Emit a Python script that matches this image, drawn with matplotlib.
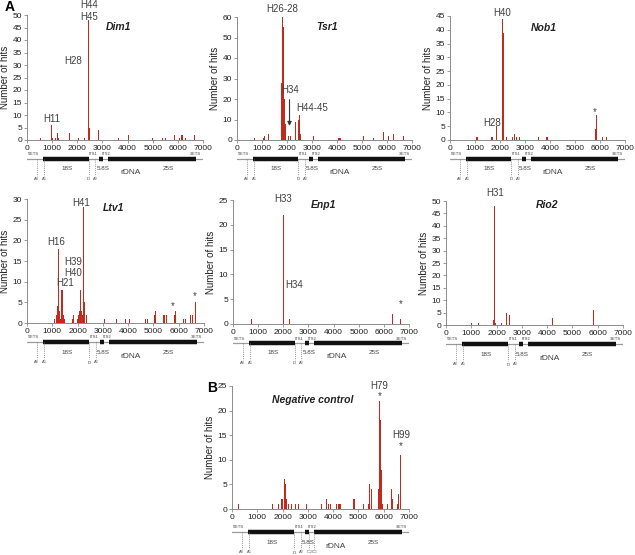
import numpy as np
import matplotlib
matplotlib.use("Agg")
import matplotlib.pyplot as plt

plt.rcParams['font.family'] = ['Liberation Sans', 'DejaVu Sans']

# hits per rDNA position
dim1_pos = [520, 990, 1020, 1120, 1230, 1270, 1680, 1830, 1870, 2050, 2300, 2440, 2470, 2500,
            2850, 3650, 4020, 5000, 5050, 5380, 5500, 5850, 6050, 6150, 6200, 6300, 6650]
dim1_hits = [1, 6, 1, 1, 3, 1, 3, 29, 1, 1, 1, 48, 5, 4,
             4, 1, 2, 1, 1, 1, 1, 2, 1, 2, 2, 1, 2]

tsr1_pos = [700, 1050, 1100, 1200, 1270, 1790, 1820, 1850, 1870, 1900, 1930, 1960, 2000, 2050,
            2150, 2200, 2350, 2400, 2450, 2490, 2530, 3000, 3050, 4000, 4050, 4100, 4150,
            5050, 5120, 5450, 5800, 5870, 5920, 6050, 6270, 6650]
tsr1_hits = [1, 1, 2, 1, 3, 28, 60, 55, 40, 20, 8, 3, 2, 2,
             2, 5, 9, 5, 10, 12, 3, 1, 2, 1, 1, 1, 1,
             2, 3, 1, 2, 4, 3, 2, 3, 2]

nob1_pos = [1050, 1100, 1650, 1700, 1850, 2000, 2100, 2130, 2200, 2250, 2500, 2580, 2650, 2780,
            3080, 3550, 3870, 3900, 5820, 5850, 5880, 6100, 6200, 6250, 6520]
nob1_hits = [1, 1, 1, 1, 5, 1, 44, 39, 2, 1, 1, 2, 1, 1,
             1, 1, 1, 1, 4, 9, 7, 1, 1, 1, 1]

ltv1_pos = [1100, 1150, 1200, 1230, 1260, 1280, 1300, 1330, 1370, 1400, 1420, 1450, 1480,
            1800, 1850, 2000, 2050, 2080, 2100, 2130, 2160, 2200, 2230, 2250, 2280, 2350,
            3050, 3550, 3900, 4050, 4700, 4750, 5050, 5070, 5100, 5400, 5450, 5500,
            5850, 5880, 6200, 6280, 6450, 6550, 6650, 6680]
ltv1_hits = [1, 2, 4, 18, 10, 3, 2, 1, 8, 8, 5, 2, 1,
             1, 2, 1, 2, 3, 4, 8, 3, 2, 28, 26, 5, 2,
             1, 1, 1, 1, 1, 1, 2, 3, 1, 2, 2, 2,
             2, 3, 1, 1, 2, 2, 3, 5]

enp1_pos = [730, 1990, 2010, 2030, 2150, 2250, 5050, 6350, 6650, 6680]
enp1_hits = [1, 24, 22, 12, 6, 1, 1, 2, 1, 3]

rio2_pos = [1000, 1300, 1880, 1930, 1960, 2200, 2380, 2500, 4200, 5850]
rio2_hits = [1, 1, 2, 48, 1, 1, 5, 4, 3, 6]

neg_pos = [250, 1600, 1850, 1950, 2000, 2080, 2110, 2150, 2250, 2350, 2500, 2620, 2950,
           3550, 3600, 3680, 3720, 3800, 3900, 4150, 4200, 4250, 4300, 4800, 4850,
           5100, 5200, 5400, 5450, 5500, 5800, 5850, 5870, 5900, 5950,
           6150, 6250, 6300, 6330, 6550, 6600, 6650, 6680]
neg_hits = [1, 1, 1, 2, 2, 6, 5, 2, 1, 1, 1, 1, 1,
            1, 2, 3, 2, 1, 1, 1, 1, 1, 1, 2, 2,
            2, 1, 1, 5, 4, 4, 22, 18, 8, 1,
            1, 5, 4, 2, 1, 3, 11, 10]

W, H = 635, 555
fig = plt.figure(figsize=(6.35, 5.55), dpi=100)

BAR = '#c22a1c'
GREY = '#8c8c8c'
TXT = '#404040'


def px_axes(x0, x1, ytop, ybot):
    return fig.add_axes([x0 / W, 1 - ybot / H, (x1 - x0) / W, (ybot - ytop) / H])


def rdna(x0, x1, base, gap, neg=False):
    # small rDNA diagram under each panel, y in pixels from its top
    d = px_axes(x0, x1, base + gap, base + gap + 36)
    d.set_xlim(0, 7000)
    d.set_ylim(36, 0)
    d.axis('off')
    d.plot([0, 6950], [10, 10], color='#9a9a9a', lw=0.9)
    for a, b in [(650, 2450), (2870, 3040), (3230, 6720)]:
        d.plot([a, b], [10, 10], color='#111111', lw=3.2, solid_capstyle='butt')
    small = dict(fontsize=3, color=TXT, ha='center', va='center')
    d.text(260, 5.5, "5'ETS", **small)
    d.text(6700, 5.5, "3'ETS", **small)
    d.text(2640, 5.5, "ITS1", **small)
    d.text(3160, 5.5, "ITS2", **small)
    d.text(1580, 20, '18S', fontsize=4.5, color=TXT, ha='center', va='center')
    d.text(3010, 20, '5.8S', fontsize=4.5, color=TXT, ha='center', va='center')
    d.text(5600, 20, '25S', fontsize=4.5, color=TXT, ha='center', va='center')
    d.text(4100, 24, 'rDNA', fontsize=6, color=TXT, ha='center', va='center')
    sites = [(380, 'A$_0$'), (680, 'A$_1$'), (2450, 'D'), (2720, 'A$_2$')]
    if neg:
        sites += [(3040, 'C$_2$'), (3260, 'C$_1$')]
    for xs, lab in sites:
        d.plot([xs, xs], [10, 27], color='#777777', lw=0.5, ls=(0, (1.5, 1.5)))
        d.text(xs, 30.5, lab, fontsize=3, color=TXT, ha='center', va='center')


def panel(x0, x1, ytop, ybot, pos, hits, ymax, ystep, name, notes, gap=9, neg=False):
    ax = px_axes(x0, x1, ytop, ybot)
    ax.bar(pos, hits, width=35, color=BAR, linewidth=0)
    ax.set_xlim(0, 7000)
    ax.set_ylim(0, ymax)
    ax.set_xticks(np.arange(0, 7001, 1000))
    ax.set_yticks(np.arange(0, ymax + 1, ystep))
    for s in ['top', 'right']:
        ax.spines[s].set_visible(False)
    for s in ['left', 'bottom']:
        ax.spines[s].set_color(GREY)
        ax.spines[s].set_linewidth(0.7)
    ax.tick_params(labelsize=6, length=2, width=0.6, color=GREY, pad=1.5, labelcolor='#222222')
    ax.set_ylabel('Number of hits', fontsize=7, color='#222222', labelpad=2)
    ax.text(name[0], name[1], name[2], fontsize=7.5, fontweight='bold', fontstyle='italic',
            ha='center', va='center', color='#222222')
    for xt, yt, lab in notes:
        ax.text(xt, yt, lab, fontsize=7, color=TXT, ha='center', va='center', clip_on=False)
    rdna(x0, x1, ybot, gap, neg)
    return ax


panel(27, 203, 15, 140, dim1_pos, dim1_hits, 50, 5, (3630, 45.3, 'Dim1'),
      [(990, 8.4, 'H11'), (1850, 31.6, 'H28'), (2470, 54, 'H44'), (2470, 49.3, 'H45')])

ax = panel(237, 412, 17, 140, tsr1_pos, tsr1_hits, 60, 10, (3585, 55.3, 'Tsr1'),
           [(1790, 63.7, 'H26-28'), (2125, 24.4, 'H34'), (2990, 15.5, 'H44-45')])
ax.annotate('', xy=(2100, 5.5), xytext=(2100, 21),
            arrowprops=dict(arrowstyle='-|>', color='#333333', lw=0.8, mutation_scale=6))

panel(450, 625, 16, 140, nob1_pos, nob1_hits, 45, 5, (3760, 40.5, 'Nob1'),
      [(2093, 46.2, 'H40'), (1667, 6.1, 'H28'), (5800, 10.3, '*')])

panel(27, 204, 199, 323, ltv1_pos, ltv1_hits, 30, 5, (3420, 27.9, 'Ltv1'),
      [(2130, 29.1, 'H41'), (1160, 19.7, 'H16'), (1815, 14.8, 'H39'), (1815, 12.1, 'H40'),
       (1520, 9.6, 'H21'), (5760, 4.1, '*'), (6645, 6.4, '*')])

panel(233, 409, 200, 324, enp1_pos, enp1_hits, 25, 5, (3593, 24.0, 'Enp1'),
      [(1981, 25.3, 'H33'), (2444, 7.9, 'H34'), (6658, 4.0, '*')])

panel(446, 623, 201, 325, rio2_pos, rio2_hits, 50, 5, (4000, 48.4, 'Rio2'),
      [(1934, 53.1, 'H31')])

panel(232, 409, 386, 509, neg_pos, neg_hits, 25, 5, (3200, 22.2, 'Negative control'),
      [(5837, 25.0, 'H79'), (5837, 22.9, '*'), (6693, 15.0, 'H99'), (6693, 12.7, '*')],
      gap=13, neg=True)

fig.text(5 / W, 1 - 7 / H, 'A', fontsize=10, fontweight='bold', va='center', ha='left')
fig.text(212 / W, 1 - 388 / H, 'B', fontsize=10, fontweight='bold', va='center', ha='center')

fig.savefig('out.png', dpi=100)
